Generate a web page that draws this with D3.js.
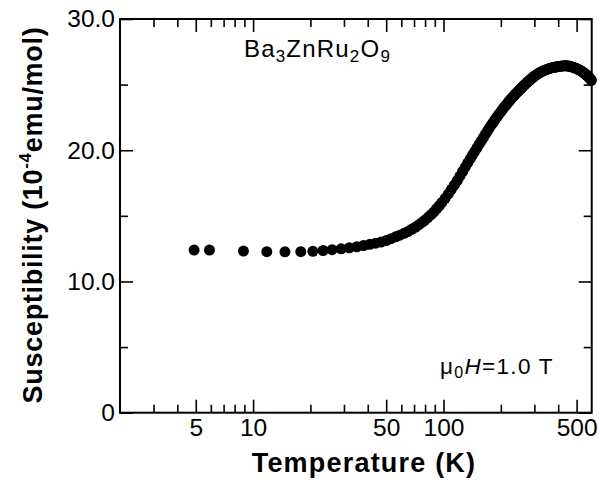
<!DOCTYPE html>
<html><head><meta charset="utf-8">
<script src="https://cdn.jsdelivr.net/npm/d3@7/dist/d3.min.js"></script>
<style>body{margin:0;background:#fff}svg{display:block}</style>
</head><body>
<svg id="chart" width="600" height="484"></svg>
<script>
// ---- data ----
const temperature = [
  4.9, 5.9, 8.9, 11.8, 14.7, 17.8,
  20.6, 23.3, 26, 29, 32, 35, 38, 41, 44, 47, 50, 53, 56, 59, 62, 65, 68, 71, 74, 77, 80,
  83, 86, 89, 92, 95, 98,
  102, 106, 110, 114, 118, 122, 126, 130, 134, 138, 142, 146, 150, 154, 158, 162, 166, 170,
  174, 178, 182, 186, 190, 194, 198, 202, 206, 210, 214, 218, 222, 226, 230, 234, 238, 242,
  246, 250, 254, 258, 262, 266, 270, 274, 278, 282, 286, 290, 294, 298,
  304, 310, 316, 322, 328, 334, 340, 346, 352, 358, 364, 370, 376, 382, 388, 394, 400, 406,
  412, 418, 424, 430, 436, 442, 448, 454, 460, 466, 472, 478, 484, 490, 496, 502, 508, 514,
  520, 526, 532, 538, 544, 550, 556, 562, 568, 574, 580, 586, 592, 598
];
const susceptibility = [
  12.39, 12.39, 12.32, 12.27, 12.26, 12.27,
  12.30, 12.36, 12.42, 12.49, 12.56, 12.64, 12.74, 12.83, 12.92, 13.00, 13.12, 13.26, 13.40,
  13.53, 13.67, 13.80, 13.97, 14.13, 14.31, 14.50, 14.68,
  14.89, 15.09, 15.30, 15.54, 15.77, 16.02,
  16.34, 16.68, 17.02, 17.35, 17.68, 18.03, 18.38, 18.71, 19.03, 19.34, 19.63, 19.92, 20.19,
  20.46, 20.72, 20.97, 21.22, 21.46,
  21.69, 21.91, 22.11, 22.30, 22.50, 22.68, 22.85, 23.02, 23.19, 23.34, 23.48, 23.63, 23.77,
  23.90, 24.02, 24.15, 24.26, 24.37,
  24.48, 24.58, 24.68, 24.78, 24.88, 24.97, 25.06, 25.15, 25.24, 25.32, 25.39, 25.47, 25.54, 25.61,
  25.71, 25.79, 25.87, 25.94, 25.99, 26.05, 26.10, 26.14, 26.18, 26.22, 26.25, 26.28, 26.30,
  26.32, 26.34, 26.36, 26.38, 26.39,
  26.40, 26.42, 26.42, 26.43, 26.43, 26.43, 26.42, 26.41, 26.40, 26.38, 26.35, 26.33, 26.30,
  26.27, 26.24, 26.21, 26.17, 26.14,
  26.10, 26.06, 26.01, 25.96, 25.91, 25.86, 25.80, 25.74, 25.68, 25.62, 25.56, 25.49, 25.41, 25.33
];
const xMajorTicks = [5, 10, 50, 100, 500];
const xMinorTicks = [3, 4, 6, 7, 8, 9, 20, 30, 40, 60, 70, 80, 90, 200, 300, 400];
const yMajorTicks = [0, 10, 20, 30];
const yMinorTicks = [5, 15, 25];
const yTickLabels = ["0", "10.0", "20.0", "30.0"];
const xDomain = [2, 600];
const yDomain = [0, 30];

// ---- layout ----
const svg = d3.select("#chart");
const L = 120, R = 591.7, T = 19, B = 412.7;
const x = d3.scaleLog().domain(xDomain).range([L, R]);
const y = d3.scaleLinear().domain(yDomain).range([B, T]);
const FONT = "'Liberation Sans', Arial, Helvetica, sans-serif";

function styleAxis(g) {
  g.select(".domain").remove();
  g.selectAll(".tick line").attr("stroke", "#000").attr("stroke-width", 1.6);
  g.selectAll("text").attr("font-family", FONT).attr("font-size", 24.5).attr("fill", "#000");
}

// bottom
svg.append("g").attr("transform", `translate(0,${B})`)
  .call(d3.axisBottom(x).tickValues(xMajorTicks).tickFormat(d3.format("d"))
    .tickSizeInner(-13).tickSizeOuter(0).tickPadding(6)).call(styleAxis);
svg.append("g").attr("transform", `translate(0,${B})`)
  .call(d3.axisBottom(x).tickValues(xMinorTicks).tickFormat("")
    .tickSizeInner(-8).tickSizeOuter(0)).call(styleAxis);
// top
svg.append("g").attr("transform", `translate(0,${T})`)
  .call(d3.axisTop(x).tickValues(xMajorTicks).tickFormat("")
    .tickSizeInner(-13).tickSizeOuter(0)).call(styleAxis);
svg.append("g").attr("transform", `translate(0,${T})`)
  .call(d3.axisTop(x).tickValues(xMinorTicks).tickFormat("")
    .tickSizeInner(-8).tickSizeOuter(0)).call(styleAxis);
// left
svg.append("g").attr("transform", `translate(${L},0)`)
  .call(d3.axisLeft(y).tickValues(yMajorTicks).tickFormat((d, i) => yTickLabels[i])
    .tickSizeInner(-13).tickSizeOuter(0).tickPadding(5)).call(styleAxis);
svg.append("g").attr("transform", `translate(${L},0)`)
  .call(d3.axisLeft(y).tickValues(yMinorTicks).tickFormat("")
    .tickSizeInner(-8).tickSizeOuter(0)).call(styleAxis);
// right
svg.append("g").attr("transform", `translate(${R},0)`)
  .call(d3.axisRight(y).tickValues(yMajorTicks).tickFormat("")
    .tickSizeInner(-13).tickSizeOuter(0)).call(styleAxis);
svg.append("g").attr("transform", `translate(${R},0)`)
  .call(d3.axisRight(y).tickValues(yMinorTicks).tickFormat("")
    .tickSizeInner(-8).tickSizeOuter(0)).call(styleAxis);

// frame
svg.append("rect").attr("x", L).attr("y", T).attr("width", R - L).attr("height", B - T)
  .attr("fill", "none").attr("stroke", "#000").attr("stroke-width", 2);

// data points
svg.append("g").selectAll("circle")
  .data(temperature.map((t, i) => [t, susceptibility[i]]))
  .join("circle")
  .attr("cx", d => x(d[0])).attr("cy", d => y(d[1])).attr("r", 5.5).attr("fill", "#000");

// axis titles
svg.append("text").attr("x", 364).attr("y", 471.5)
  .attr("text-anchor", "middle").attr("font-family", FONT).attr("font-weight", "bold")
  .attr("font-size", 27).attr("letter-spacing", 1.2).text("Temperature (K)");

const yt = svg.append("text").attr("transform", "translate(42,215) rotate(-90)")
  .attr("text-anchor", "middle").attr("font-family", FONT).attr("font-weight", "bold")
  .attr("font-size", 27).attr("letter-spacing", 0.7);
yt.append("tspan").text("Susceptibility (10");
yt.append("tspan").attr("font-size", 17).attr("dy", -11).text("-4");
yt.append("tspan").attr("dy", 11).text("emu/mol)");

// compound label
const comp = svg.append("text").attr("x", 317.5).attr("y", 57)
  .attr("text-anchor", "middle").attr("font-family", FONT).attr("font-size", 24)
  .attr("letter-spacing", 1.2);
[["Ba", false], ["3", true], ["ZnRu", false], ["2", true], ["O", false], ["9", true]].forEach(([s, sub], i, arr) => {
  const prevSub = i > 0 && arr[i - 1][1];
  const ts = comp.append("tspan").text(s);
  if (sub) ts.attr("font-size", 17).attr("dy", 5);
  else if (prevSub) ts.attr("dy", -5);
});

// field label
const fl = svg.append("text").attr("x", 497).attr("y", 374)
  .attr("text-anchor", "middle").attr("font-family", FONT).attr("font-size", 22.5)
  .attr("letter-spacing", 1.3);
fl.append("tspan").text("\u03bc");
fl.append("tspan").attr("font-size", 16).attr("dy", 4).text("0");
fl.append("tspan").attr("dy", -4).attr("font-style", "italic").text("H");
fl.append("tspan").text("=1.0 T");
</script>
</body></html>
